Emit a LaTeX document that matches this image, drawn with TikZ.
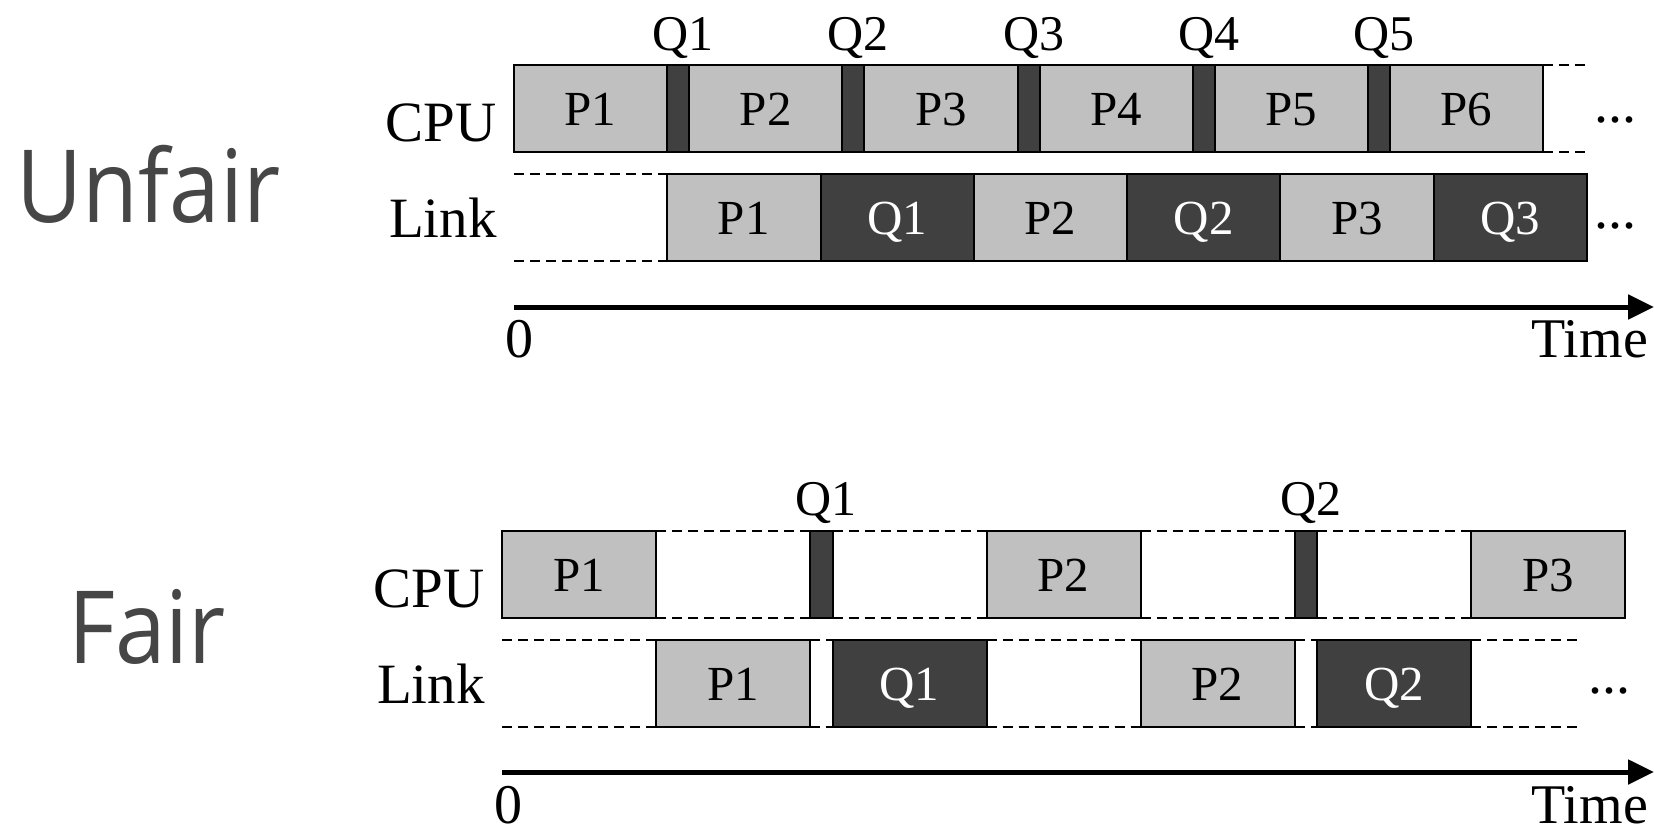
\documentclass[tikz,border=0pt]{standalone}
\usepackage{fontspec}
\setmainfont{Liberation Serif}
\newfontfamily\titlefont[FakeStretch=0.9]{Open Sans}
\usetikzlibrary{arrows.meta}
\definecolor{lightblk}{RGB}{192,192,192}
\definecolor{darkblk}{RGB}{64,64,64}
\definecolor{titlegray}{RGB}{70,70,70}

\begin{document}
\begin{tikzpicture}[x=1pt,y=-1pt,
  block/.style={draw=black, line width=2pt, inner sep=0pt, outer sep=0pt,
    minimum height=87pt, anchor=north west, text height=33pt, text depth=0pt,
    font=\fontsize{49}{49}\selectfont},
  pblk/.style={block, fill=lightblk, text=black},
  qblk/.style={block, fill=darkblk, text=white},
  qlabel/.style={anchor=base, inner sep=0pt, font=\fontsize{50}{50}\selectfont},
  sidelabel/.style={anchor=base east, inner sep=0pt, font=\fontsize{57}{57}\selectfont},
  axislabel/.style={inner sep=0pt, font=\fontsize{56}{56}\selectfont},
  dots/.style={anchor=base, inner sep=0pt, font=\fontsize{56}{56}\selectfont},
  titlelabel/.style={anchor=base, inner sep=0pt, text=titlegray,
    font=\titlefont\fontsize{101}{101}\selectfont},
  dashline/.style={draw=black, line width=2.2pt, dash pattern=on 10pt off 6pt},
  timeaxis/.style={draw=black, line width=5pt, -{Triangle[length=26pt,width=24pt]}}]

\useasboundingbox (0,0) rectangle (1654,827);

% ---------------- Unfair ----------------
\node[titlelabel] (tUnfair) at (148.5,222) {Unfair};
\node[sidelabel] (ucpu) at (497,141) {CPU};
\node[sidelabel] (ulink) at (497,237) {Link};

% CPU row: long P slices separated by short Q slices
\foreach \i in {1,...,6} {
  \pgfmathsetmacro\px{514+(\i-1)*175.2}
  \node[pblk, minimum width=153.2pt] (ucP\i) at (\px,65) {P\i};
}
\foreach \i in {1,...,5} {
  \pgfmathsetmacro\qx{514+(\i-1)*175.2+153.2}
  \node[qblk, minimum width=22pt] (ucQ\i) at (\qx,65) {};
  \node[qlabel] (ucQl\i) at ([xshift=5pt,yshift=15pt]ucQ\i.north) {Q\i};
}
\coordinate (ucEndT) at (1588,65);
\coordinate (ucEndB) at (1588,152);
\draw[dashline] (ucP6.north east) -- (ucEndT);
\draw[dashline] (ucP6.south east) -- (ucEndB);
\node[dots] (ucDots) at (1615,122) {...};

% Link row
\foreach \i in {1,2,3} {
  \pgfmathsetmacro\lx{667.2+(\i-1)*306.6}
  \node[pblk, minimum width=153.3pt] (ulP\i) at (\lx,174) {P\i};
  \node[qblk, minimum width=153.3pt] (ulQ\i) at (\lx+153.3,174) {Q\i};
}
\coordinate (ulStartT) at (514,174);
\coordinate (ulStartB) at (514,261);
\draw[dashline] (ulStartT) -- (ulP1.north west);
\draw[dashline] (ulStartB) -- (ulP1.south west);
\node[dots] (ulDots) at (1615,228) {...};

% Time axis
\coordinate (uAx0) at (514,307);
\coordinate (uAx1) at (1654,307);
\draw[timeaxis] (uAx0) -- (uAx1);
\node[axislabel, anchor=base] (uZero) at (519,357) {0};
\node[axislabel, anchor=base east] (uTime) at (1648,357) {Time};

% ---------------- Fair ----------------
\node[titlelabel] (tFair) at (147,663) {Fair};
\node[sidelabel] (fcpu) at (485,607) {CPU};
\node[sidelabel] (flink) at (485,703) {Link};

% CPU row
\node[pblk, minimum width=154pt] (fcP1) at (502,531) {P1};
\node[qblk, minimum width=22.5pt] (fcQ1) at (810,531) {};
\node[pblk, minimum width=154pt] (fcP2) at (986.5,531) {P2};
\node[qblk, minimum width=22.5pt] (fcQ2) at (1294.5,531) {};
\node[pblk, minimum width=154pt] (fcP3) at (1471,531) {P3};
\node[qlabel] (fcQl1) at ([xshift=5pt,yshift=16pt]fcQ1.north) {Q1};
\node[qlabel] (fcQl2) at ([xshift=5pt,yshift=16pt]fcQ2.north) {Q2};
\foreach \a/\b in {fcP1/fcQ1, fcQ1/fcP2, fcP2/fcQ2, fcQ2/fcP3} {
  \draw[dashline] (\a.north east) -- (\b.north west);
  \draw[dashline] (\a.south east) -- (\b.south west);
}

% Link row
\node[pblk, minimum width=154pt] (flP1) at (656,640) {P1};
\node[qblk, minimum width=154pt] (flQ1) at (832.5,640) {Q1};
\node[pblk, minimum width=154pt] (flP2) at (1140.5,640) {P2};
\node[qblk, minimum width=154pt] (flQ2) at (1317,640) {Q2};
\coordinate (flStartT) at (502,640);
\coordinate (flStartB) at (502,727);
\coordinate (flEndT) at (1582,640);
\coordinate (flEndB) at (1582,727);
\draw[dashline] (flStartT) -- (flP1.north west);
\draw[dashline] (flStartB) -- (flP1.south west);
\foreach \a/\b in {flP1/flQ1, flQ1/flP2, flP2/flQ2} {
  \draw[dashline] (\a.north east) -- (\b.north west);
  \draw[dashline] (\a.south east) -- (\b.south west);
}
\draw[dashline] (flQ2.north east) -- (flEndT);
\draw[dashline] (flQ2.south east) -- (flEndB);
\node[dots] (flDots) at (1609,693) {...};

% Time axis
\coordinate (fAx0) at (502,772);
\coordinate (fAx1) at (1654,772);
\draw[timeaxis] (fAx0) -- (fAx1);
\node[axislabel, anchor=base] (fZero) at (508,823) {0};
\node[axislabel, anchor=base east] (fTime) at (1648,823) {Time};

\end{tikzpicture}
\end{document}
